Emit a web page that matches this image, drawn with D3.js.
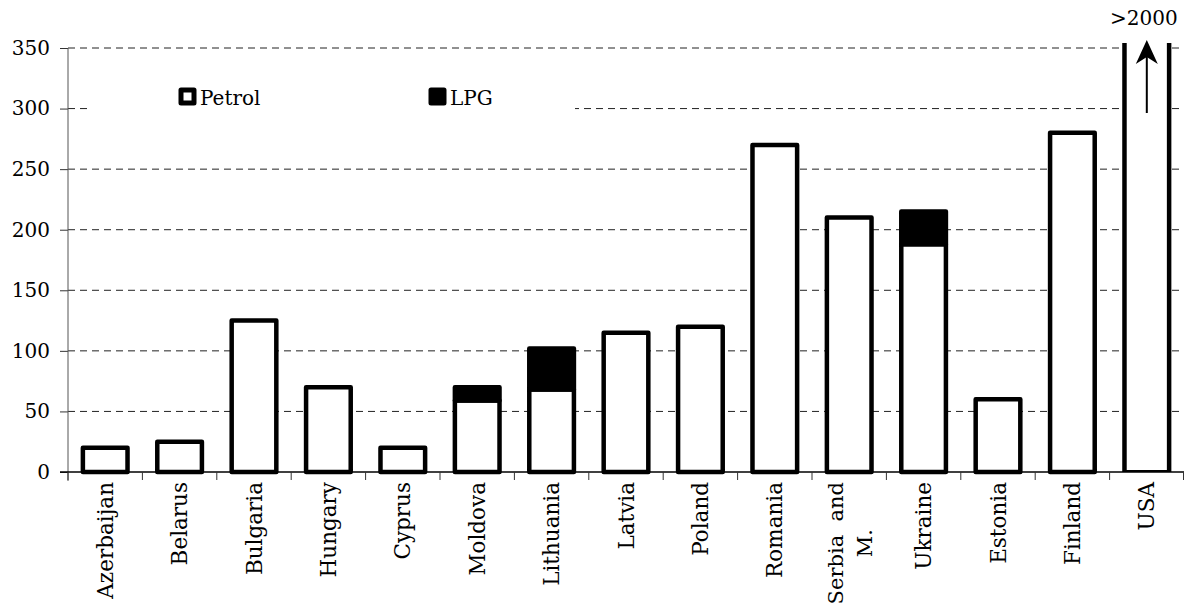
<!DOCTYPE html>
<html>
<head>
<meta charset="utf-8">
<script src="https://cdn.jsdelivr.net/npm/d3@7"></script>
<style>
  body { margin: 0; background: #fff; }
  text { font-family: "DejaVu Serif", serif; fill: #000; }
</style>
</head>
<body>
<div id="chart"></div>
<script>
// data
var countries = ["Azerbaijan", "Belarus", "Bulgaria", "Hungary", "Cyprus", "Moldova", "Lithuania",
                 "Latvia", "Poland", "Romania", "Serbia and M.", "Ukraine", "Estonia", "Finland", "USA"];
var petrol = [20, 25, 125, 70, 20, 59, 68, 115, 120, 270, 210, 188, 60, 280, 2000];
var lpg    = [0, 0, 0, 0, 0, 11, 34, 0, 0, 0, 0, 27, 0, 0, 0];
var yTicks = [0, 50, 100, 150, 200, 250, 300, 350];
var seriesNames = ["Petrol", "LPG"];

var width = 1184, height = 607;

var svg = d3.select("#chart")
    .append("svg")
    .attr("width", width)
    .attr("height", height);

var x = d3.scaleBand()
    .domain(countries)
    .range([68, 1184])
    .paddingInner(0.4)
    .paddingOuter(0.2);

var y = d3.scaleLinear()
    .domain([0, 350])
    .range([472, 48]);

var step = x.step();

// gridlines
svg.append("g").selectAll("line")
    .data(yTicks.filter(function(d) { return d > 0; }))
    .enter().append("line")
    .attr("x1", 68).attr("x2", width)
    .attr("y1", function(d) { return y(d); })
    .attr("y2", function(d) { return y(d); })
    .attr("stroke", "#222")
    .attr("stroke-width", 1)
    .attr("stroke-dasharray", "7,5");

// legend box hides the grid under it
svg.append("rect")
    .attr("x", 92).attr("y", 70)
    .attr("width", 483).attr("height", 70)
    .attr("fill", "#fff");

// y axis
var yAxis = d3.axisLeft(y)
    .tickValues(yTicks)
    .tickSize(8)
    .tickPadding(10)
    .tickFormat(d3.format("d"));
var gy = svg.append("g")
    .attr("transform", "translate(68,0)")
    .call(yAxis);
gy.select(".domain").remove();
gy.selectAll("line").attr("stroke", "#333");
gy.selectAll("text").style("font-family", "DejaVu Serif").style("font-size", "20px");
svg.append("line")
    .attr("x1", 68).attr("x2", 68)
    .attr("y1", y(350)).attr("y2", 481)
    .attr("stroke", "#555").attr("stroke-width", 1);

// bars
var barTop = y(350) - 5;
var bars = svg.append("g");
countries.forEach(function(c, i) {
    var bx = x(c), bw = x.bandwidth();
    if (c == "USA") {
        bars.append("rect")
            .attr("x", bx).attr("y", barTop)
            .attr("width", bw).attr("height", y(0) - barTop)
            .attr("fill", "#fff");
        [bx, bx + bw].forEach(function(lx) {
            bars.append("line")
                .attr("x1", lx).attr("x2", lx)
                .attr("y1", barTop).attr("y2", y(0))
                .attr("stroke", "#000").attr("stroke-width", 4.5);
        });
        bars.append("line")
            .attr("x1", bx).attr("x2", bx + bw)
            .attr("y1", y(0) - 1).attr("y2", y(0) - 1)
            .attr("stroke", "#000").attr("stroke-width", 2);
        return;
    }
    bars.append("rect")
        .attr("x", bx).attr("y", y(petrol[i]))
        .attr("width", bw).attr("height", y(0) - y(petrol[i]))
        .attr("fill", "#fff")
        .attr("stroke", "#000").attr("stroke-width", 4.5)
        .attr("stroke-linejoin", "round");
    if (lpg[i] > 0) {
        bars.append("rect")
            .attr("x", bx).attr("y", y(petrol[i] + lpg[i]))
            .attr("width", bw).attr("height", y(petrol[i]) - y(petrol[i] + lpg[i]))
            .attr("fill", "#000")
            .attr("stroke", "#000").attr("stroke-width", 4.5)
            .attr("stroke-linejoin", "round");
    }
});

// x axis
svg.append("line")
    .attr("x1", 60).attr("x2", width)
    .attr("y1", y(0)).attr("y2", y(0))
    .attr("stroke", "#000").attr("stroke-width", 1.5);
var bounds = countries.map(function(c) { return x(c) - step * 0.2; });
bounds.push(width - 0.5);
svg.append("g").selectAll("line.tick")
    .data(bounds)
    .enter().append("line")
    .attr("x1", function(d) { return d; })
    .attr("x2", function(d) { return d; })
    .attr("y1", y(0)).attr("y2", y(0) + 8)
    .attr("stroke", "#333").attr("stroke-width", 1);

// category labels
var labels = svg.append("g");
countries.forEach(function(c) {
    var cx = x(c) + x.bandwidth() / 2;
    if (c == "Serbia and M.") {
        var g = labels.append("g").attr("transform", "translate(" + cx + ",482) rotate(-90)");
        var l1 = g.append("text")
            .attr("x", 0).attr("y", -14)
            .attr("dy", "0.35em")
            .attr("text-anchor", "end")
            .style("font-size", "21px")
            .style("white-space", "pre")
            .text("Serbia  and");
        var len = l1.node().getComputedTextLength();
        g.append("text")
            .attr("x", -len / 2).attr("y", 15)
            .attr("dy", "0.35em")
            .attr("text-anchor", "middle")
            .style("font-size", "21px")
            .text("M.");
        return;
    }
    labels.append("text")
        .attr("transform", "translate(" + cx + ",482) rotate(-90)")
        .attr("dy", "0.35em")
        .attr("text-anchor", "end")
        .style("font-size", "21.5px")
        .text(c);
});

// legend
var legendX = [181, 431];
seriesNames.forEach(function(s, i) {
    svg.append("rect")
        .attr("x", legendX[i]).attr("y", 90)
        .attr("width", 13).attr("height", 13)
        .attr("fill", i == 0 ? "#fff" : "#000")
        .attr("stroke", "#000").attr("stroke-width", 5)
        .attr("stroke-linejoin", "round");
    svg.append("text")
        .attr("x", legendX[i] + 19).attr("y", 105)
        .style("font-size", "20px")
        .text(s);
});

// USA off-scale marker
var ux = x("USA") + x.bandwidth() / 2;
svg.append("line")
    .attr("x1", ux).attr("x2", ux)
    .attr("y1", 113).attr("y2", 55)
    .attr("stroke", "#000").attr("stroke-width", 2);
svg.append("path")
    .attr("d", "M" + ux + ",40 L" + (ux - 11) + ",64 L" + ux + ",57 L" + (ux + 11) + ",64 Z")
    .attr("fill", "#000");
svg.append("text")
    .attr("x", ux - 3).attr("y", 25)
    .attr("text-anchor", "middle")
    .style("font-size", "20px")
    .text(">2000");
</script>
</body>
</html>
